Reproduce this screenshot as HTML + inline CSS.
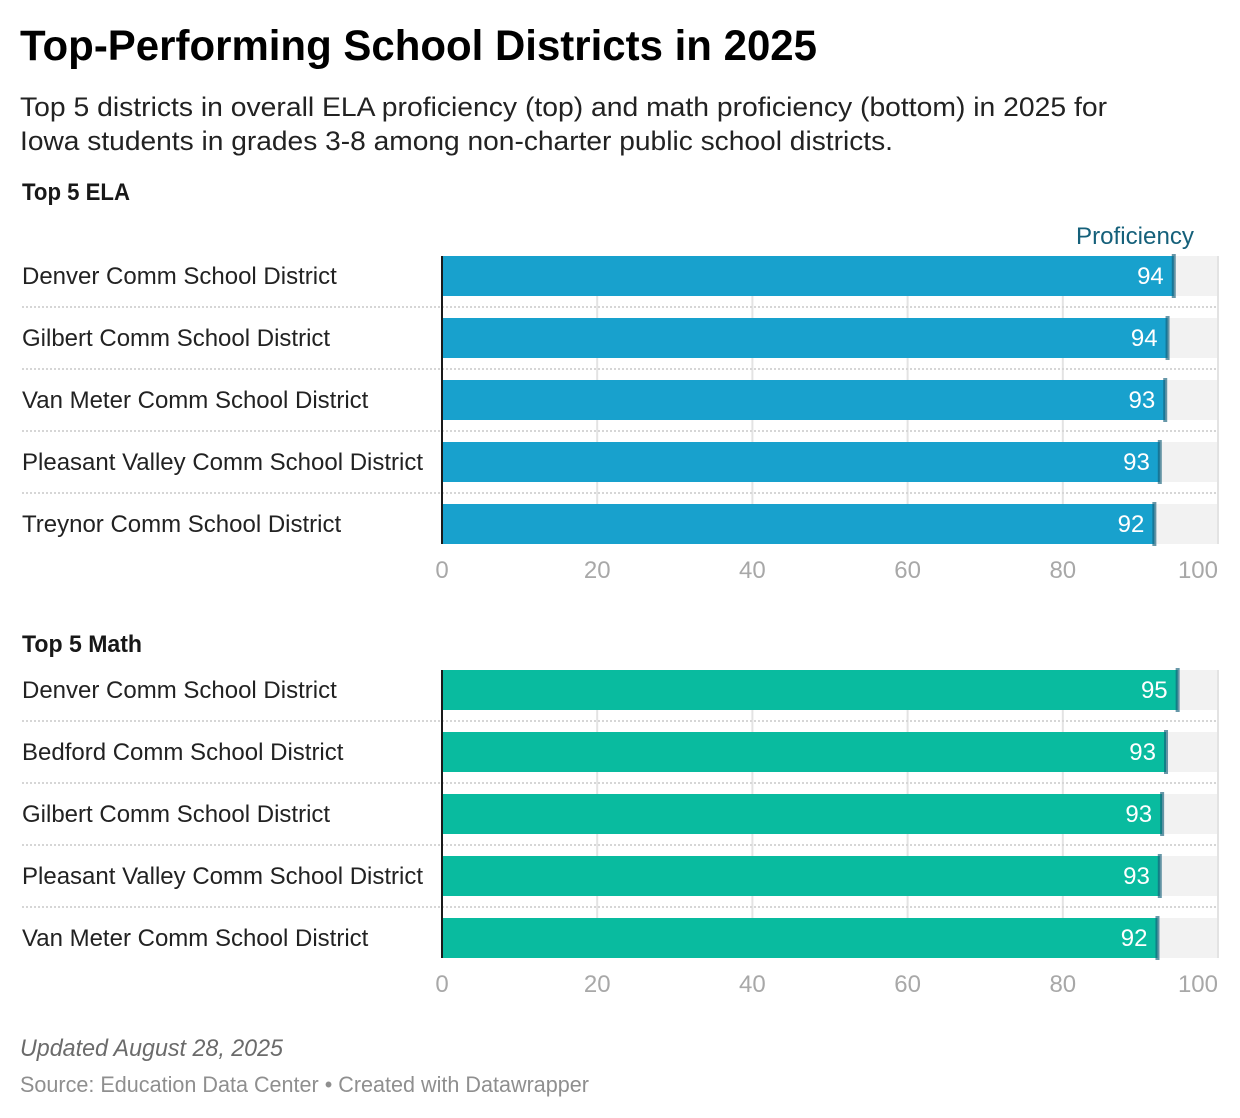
<!DOCTYPE html>
<html lang="en">
<head>
<meta charset="utf-8">
<title>Top-Performing School Districts in 2025</title>
<style>
  html, body { margin: 0; padding: 0; background: #fff; }
  svg { display: block; font-family: "Liberation Sans", sans-serif; }
</style>
</head>
<body>
<svg id="chart" xmlns="http://www.w3.org/2000/svg" width="1240" height="1118" viewBox="0 0 1240 1118">
  <rect x="0" y="0" width="1240" height="1118" fill="#ffffff"/>
  <text x="20" y="60" font-size="43" font-weight="700" fill="#000" textLength="797" lengthAdjust="spacingAndGlyphs">Top-Performing School Districts in 2025</text>
  <text x="20" y="116" font-size="27" fill="#222" textLength="1087" lengthAdjust="spacingAndGlyphs">Top 5 districts in overall ELA proficiency (top) and math proficiency (bottom) in 2025 for</text>
  <text x="20" y="150" font-size="27" fill="#222" textLength="873" lengthAdjust="spacingAndGlyphs">Iowa students in grades 3-8 among non-charter public school districts.</text>
  <text x="22" y="200" font-size="24" font-weight="700" fill="#181818" textLength="108" lengthAdjust="spacingAndGlyphs">Top 5 ELA</text>
  <text x="1076" y="244" font-size="24" fill="#15607a" textLength="118" lengthAdjust="spacingAndGlyphs">Proficiency</text>
  <text x="22" y="652" font-size="24" font-weight="700" fill="#181818" textLength="120" lengthAdjust="spacingAndGlyphs">Top 5 Math</text>
  <g id="ela-panel"></g>
  <g id="math-panel"></g>
  <text x="20" y="1056" font-size="24" font-style="italic" fill="#6b6b6b" textLength="263" lengthAdjust="spacingAndGlyphs">Updated August 28, 2025</text>
  <text x="20" y="1092" font-size="22" fill="#8f8f8f" textLength="569" lengthAdjust="spacingAndGlyphs">Source: Education Data Center • Created with Datawrapper</text>
</svg>
<script>
const elaCategories = ["Denver Comm School District", "Gilbert Comm School District", "Van Meter Comm School District", "Pleasant Valley Comm School District", "Treynor Comm School District"];
const elaValues = [94.3, 93.5, 93.2, 92.5, 91.8];
const mathCategories = ["Denver Comm School District", "Bedford Comm School District", "Gilbert Comm School District", "Pleasant Valley Comm School District", "Van Meter Comm School District"];
const mathValues = [94.8, 93.3, 92.8, 92.5, 92.2];
const axisTicks = [0, 20, 40, 60, 80, 100];

const NS = "http://www.w3.org/2000/svg";
const plotLeft = 442;
const plotRight = 1218;
const axisMax = 100;
const barHeight = 40;
const rowStep = 62;
const xScale = v => plotLeft + (v / axisMax) * (plotRight - plotLeft);
const rowY = (top, i) => top + i * rowStep;

function make(parent, tag, attrs, text) {
  const el = document.createElementNS(NS, tag);
  for (const k in attrs) el.setAttribute(k, attrs[k]);
  if (text !== undefined) el.textContent = text;
  parent.appendChild(el);
  return el;
}

function drawPanel(parent, top, categories, values, barColor) {
  const bottom = rowY(top, categories.length - 1) + barHeight;

  axisTicks.forEach(t => {
    if (t === 0) return;
    const grid = make(parent, "line", { x1: xScale(t), x2: xScale(t), y1: top, y2: bottom, stroke: "#e3e3e3", "stroke-width": 2 });
    
    
  });

  categories.forEach((name, i) => {
    const y = rowY(top, i);

    const track = make(parent, "rect", { x: plotLeft, y: y, width: plotRight - plotLeft - 1, height: barHeight, fill: "#f2f2f2" });
    
    

    const bar = make(parent, "rect", { x: plotLeft, y: y, width: xScale(values[i]) - plotLeft, height: barHeight, fill: barColor });
    
    

    const marker = make(parent, "rect", { x: xScale(values[i]) - 2, y: y - 2, width: 4, height: barHeight + 4, fill: "#15607a", "fill-opacity": 0.65 });
    
    

    const label = make(parent, "text", { x: 22, y: y + 28, "font-size": 24, fill: "#222" }, name);
    
    

    const valueLabel = make(parent, "text", { x: xScale(values[i]) - 10, y: y + 28, "font-size": 24, fill: "#ffffff", "text-anchor": "end" }, String(Math.round(values[i])));
    
    

    if (i < categories.length - 1) {
      const sep = make(parent, "line", { x1: 22, x2: plotRight - 1, y1: y + 51, y2: y + 51, stroke: "#d6d6d6", "stroke-width": 2, "stroke-dasharray": "2 2" });
      
      
    }
  });

  const zero = make(parent, "line", { x1: xScale(0), x2: xScale(0), y1: top, y2: bottom, stroke: "#1a1a1a", "stroke-width": 2 });
  
  

  axisTicks.forEach(t => {
    const anchor = t === axisMax ? "end" : "middle";
    const tick = make(parent, "text", { x: xScale(t), y: bottom + 34, "font-size": 24, fill: "#a8a8a8", "text-anchor": anchor }, String(t));
    
    
  });
}

drawPanel(document.getElementById("ela-panel"), 256, elaCategories, elaValues, "#18a1cd");
drawPanel(document.getElementById("math-panel"), 670, mathCategories, mathValues, "#09bb9f");
</script>
</body>
</html>
